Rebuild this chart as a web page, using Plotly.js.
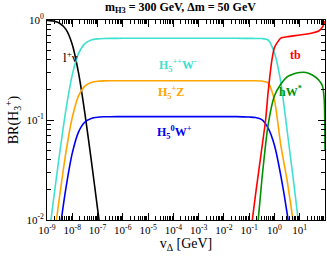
<!DOCTYPE html>
<html><head><meta charset="utf-8">
<script src="https://cdn.plot.ly/plotly-3.0.1.min.js"></script>
<style>html,body{margin:0;padding:0;background:#fff}#chart{width:327px;height:257px}</style>
</head><body><div id="chart"></div>
<script>
// log10(v_Delta / GeV) sample points
var lnuLogV = [-9, -8.75, -8.5, -8.25, -8, -7.75, -7.5, -7.25, -7, -6.75, -6.5];
var lnuBR   = [0.992, 0.977, 0.929, 0.806, 0.569, 0.294, 0.116, 0.040, 0.013, 0.0042, 0.0013];

var h5LogV   = [-9, -8.75, -8.5, -8.25, -8, -7.75, -7.5, -7.25, -7, -6.75, -6.5, -6, -5, -4, -3, -2, -1.5, -1, -0.75, -0.5, -0.25, 0, 0.25, 0.5, 0.75, 1.0, 1.25];
var h5ppWBR  = [0.0049, 0.0154, 0.0463, 0.127, 0.283, 0.463, 0.580, 0.630, 0.647, 0.653, 0.655, 0.656, 0.656, 0.656, 0.656, 0.656, 0.656, 0.655, 0.654, 0.652, 0.631, 0.468, 0.24, 0.079, 0.025, 0.0074, 0.002];
var h5pZBR   = [0.0019, 0.0058, 0.0174, 0.0478, 0.106, 0.174, 0.218, 0.237, 0.244, 0.246, 0.247, 0.247, 0.247, 0.247, 0.247, 0.247, 0.247, 0.247, 0.247, 0.245, 0.234, 0.158, 0.056, 0.025, 0.0093, 0.003, 0.001];
var h50WBR   = [0.0008, 0.0025, 0.0076, 0.0209, 0.0466, 0.0762, 0.0955, 0.1037, 0.1066, 0.1076, 0.1079, 0.108, 0.108, 0.108, 0.108, 0.108, 0.108, 0.107, 0.106, 0.101, 0.083, 0.056, 0.028, 0.0117, 0.0038, 0.001, 0.0003];

var tbLogV = [-1.25, -1, -0.75, -0.5, -0.35, -0.25, -0.1, 0, 0.25, 0.5, 1.0, 1.5, 1.75, 1.9, 2.0];
var tbBR   = [0.0017, 0.0056, 0.0178, 0.052, 0.10, 0.19, 0.40, 0.53, 0.66, 0.68, 0.708, 0.741, 0.776, 0.85, 0.977];

var hWLogV = [-1, -0.75, -0.5, -0.25, 0, 0.25, 0.5, 0.75, 1.0, 1.25, 1.5, 1.75, 1.9, 1.97, 2.0];
var hWBR   = [0.0013, 0.005, 0.025, 0.09, 0.175, 0.228, 0.27, 0.289, 0.299, 0.299, 0.282, 0.251, 0.219, 0.158, 0.05];

var xTickVals = [1e-9, 1e-8, 1e-7, 1e-6, 1e-5, 1e-4, 1e-3, 1e-2, 1e-1, 1e0, 1e1];
var xTickText = ['10<sup>-9</sup>','10<sup>-8</sup>','10<sup>-7</sup>','10<sup>-6</sup>','10<sup>-5</sup>','10<sup>-4</sup>','10<sup>-3</sup>','10<sup>-2</sup>','10<sup>-1</sup>','10<sup>0</sup>','10<sup>1</sup>'];
var yTickVals = [0.01, 0.1, 1];
var yTickText = ['10<sup>-2</sup>','10<sup>-1</sup>','10<sup>0</sup>'];

function pow10(a){ return a.map(function(e){ return Math.pow(10, e); }); }
function minorTicks(lo, hi){ var t=[]; for (var d=lo; d<hi; d++){ for (var k=2;k<=9;k++){ t.push(k*Math.pow(10,d)); } } return t; }

var F = 'Liberation Serif, Times New Roman, serif';
function tr(x, y, c){ return {x:x, y:y, type:'scatter', mode:'lines', line:{color:c, width:1.6, shape:'spline', smoothing:0.6}, hoverinfo:'skip', showlegend:false}; }

var data = [
  tr(pow10(lnuLogV), lnuBR, '#000000'),
  tr(pow10(h5LogV), h5ppWBR, '#40E0D0'),
  tr(pow10(h5LogV), h5pZBR, '#FFA500'),
  tr(pow10(h5LogV), h50WBR, '#0000F0'),
  tr(pow10(tbLogV), tbBR, '#FF0000'),
  tr(pow10(hWLogV), hWBR, '#009000')
];

var axisCommon = {type:'log', ticks:'inside', ticklen:7, tickwidth:1, tickcolor:'#000', showline:true, linecolor:'#000', linewidth:1, mirror:'ticks', showgrid:false, zeroline:false, tickmode:'array', tickfont:{family:F, size:11, color:'#000'}};

var layout = {
  width:327, height:257,
  margin:{l:47, r:2, t:20, b:37},
  paper_bgcolor:'#fff', plot_bgcolor:'#fff',
  title:{text:'<b>m<sub>H3</sub> = 300 GeV, \u0394m = 50 GeV</b>', font:{family:F, size:12, color:'#000'}, xref:'paper', x:0.48, xanchor:'center', yref:'container', y:0.975, yanchor:'middle'},
  xaxis: Object.assign({}, axisCommon, {range:[-9, 2], tickvals:xTickVals, ticktext:xTickText,
    minor:{tickmode:'array', tickvals:minorTicks(-9, 2), ticks:'inside', ticklen:4, tickcolor:'#000', tickwidth:1},
    title:{text:'v<sub>\u0394</sub> [GeV]', font:{family:F, size:14, color:'#000'}, standoff:2}}),
  yaxis: Object.assign({}, axisCommon, {range:[-2, 0], tickvals:yTickVals, ticktext:yTickText,
    minor:{tickmode:'array', tickvals:minorTicks(-2, 0), ticks:'inside', ticklen:4, tickcolor:'#000', tickwidth:1},
    title:{text:'BR(H<sub>3</sub><sup>+</sup>)', font:{family:F, size:14, color:'#000'}, standoff:4}}),
  annotations:[
    {xref:'paper', yref:'paper', x:0.05, y:0.865, text:'l<sup>+</sup>\u03bd', showarrow:false, font:{family:F, size:13, color:'#000'}},
    {xref:'paper', yref:'paper', x:0.471, y:0.825, text:'<b>H<sub>5</sub><sup>++</sup>W<sup>-</sup></b>', showarrow:false, font:{family:F, size:12, color:'#40E0D0'}},
    {xref:'paper', yref:'paper', x:0.446, y:0.64, text:'<b>H<sub>5</sub><sup>+</sup>Z</b>', showarrow:false, font:{family:F, size:12, color:'#FFA500'}},
    {xref:'paper', yref:'paper', x:0.46, y:0.44, text:'<b>H<sub>5</sub><sup>0</sup>W<sup>+</sup></b>', showarrow:false, font:{family:F, size:12, color:'#0000F0'}},
    {xref:'paper', yref:'paper', x:0.92, y:0.87, text:'<b>tb</b>', showarrow:false, font:{family:F, size:12, color:'#FF0000'}},
    {xref:'paper', yref:'paper', x:0.925, y:0.645, text:'<b>hW<sup>*</sup></b>', showarrow:false, font:{family:F, size:12, color:'#009000'}}
  ]
};

Plotly.newPlot('chart', data, layout, {staticPlot:true, displayModeBar:false});
</script>
</body></html>
